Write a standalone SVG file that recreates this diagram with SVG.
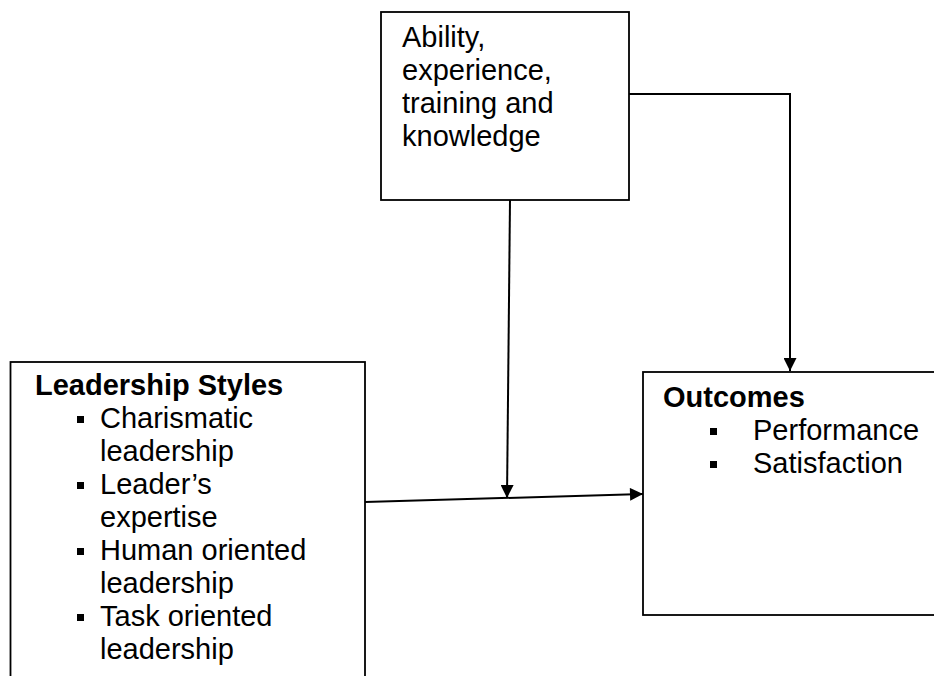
<svg xmlns="http://www.w3.org/2000/svg" width="934" height="676" viewBox="0 0 934 676">
<style>
.box{fill:#fff;stroke:#000;stroke-width:1.8}
.t{font-family:"Liberation Sans",Arial,sans-serif;font-size:29px;fill:#000}
.b{font-weight:bold}
.con{fill:none;stroke:#000;stroke-width:2}
.bul{fill:#000}
</style>
<defs>
<marker id="ah" viewBox="0 0 10 10" refX="10" refY="5" markerWidth="7" markerHeight="6.5" markerUnits="strokeWidth" orient="auto">
<path d="M0,0 L10,5 L0,10 z" fill="#000"/>
</marker>
</defs>
<g id="ability">
<rect class="box" x="381" y="12" width="248" height="188"/>
<text class="t" x="402" y="47">Ability,</text>
<text class="t" x="402" y="80">experience,</text>
<text class="t" x="402" y="113">training and</text>
<text class="t" x="402" y="146">knowledge</text>
</g>
<g id="leadership">
<rect class="box" x="10.5" y="362" width="354.5" height="330"/>
<text class="t b" x="35" y="395">Leadership Styles</text>
<rect class="bul" x="77" y="416" width="7" height="7"/>
<text class="t" x="100" y="428">Charismatic</text>
<text class="t" x="100" y="461">leadership</text>
<rect class="bul" x="77" y="482" width="7" height="7"/>
<text class="t" x="100" y="494">Leader’s</text>
<text class="t" x="100" y="527">expertise</text>
<rect class="bul" x="77" y="548" width="7" height="7"/>
<text class="t" x="100" y="560">Human oriented</text>
<text class="t" x="100" y="593">leadership</text>
<rect class="bul" x="77" y="614" width="7" height="7"/>
<text class="t" x="100" y="626">Task oriented</text>
<text class="t" x="100" y="659">leadership</text>
</g>
<g id="outcomes">
<rect class="box" x="643" y="372" width="310" height="243"/>
<text class="t b" x="663" y="407">Outcomes</text>
<rect class="bul" x="710" y="428" width="7" height="7"/>
<text class="t" x="753" y="440">Performance</text>
<rect class="bul" x="710" y="461" width="7" height="7"/>
<text class="t" x="753" y="473">Satisfaction</text>
</g>
<g id="connectors">
<polyline class="con" points="629,94 790,94 790,371" marker-end="url(#ah)"/>
<line class="con" x1="510" y1="200" x2="507" y2="498" marker-end="url(#ah)"/>
<line class="con" x1="365" y1="502" x2="643" y2="494" marker-end="url(#ah)"/>
</g>
</svg>
